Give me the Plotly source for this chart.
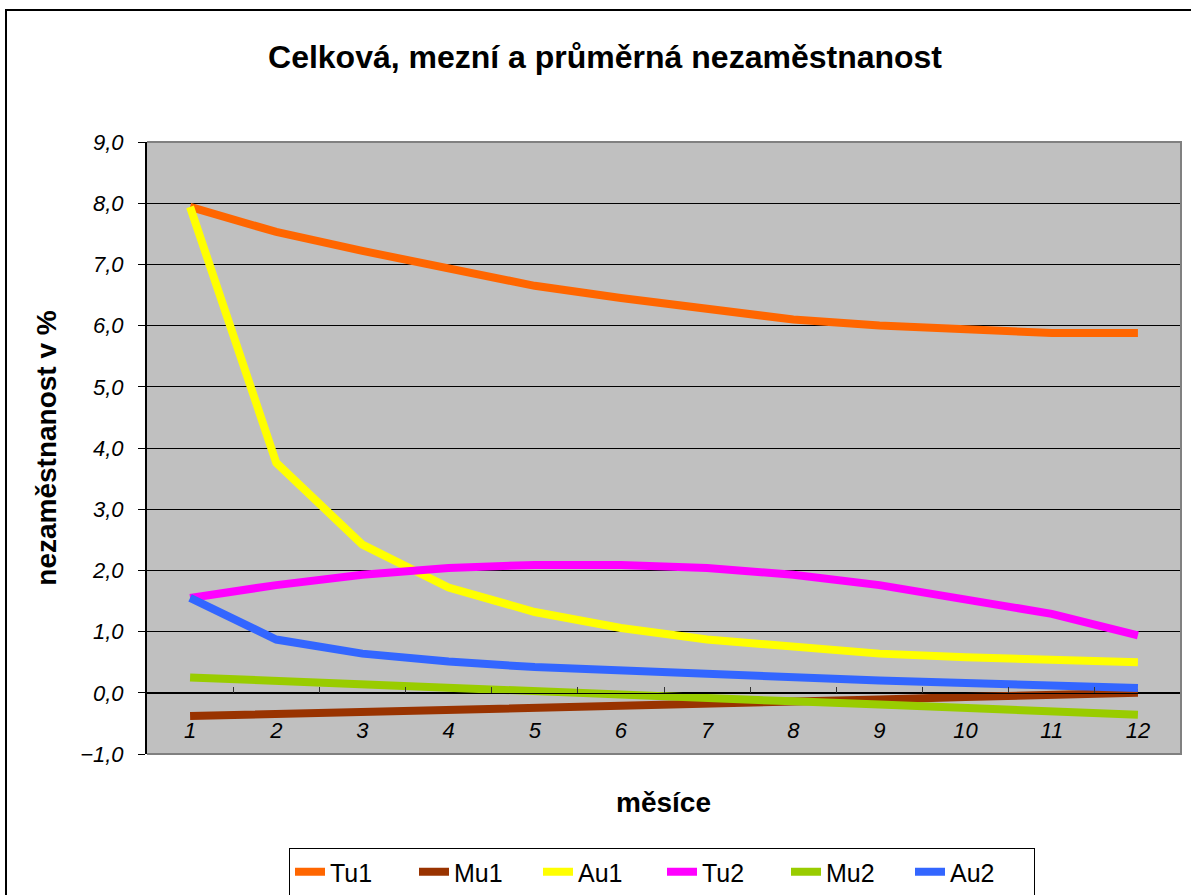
import plotly.graph_objects as go

months = [str(i) for i in range(1, 13)]
tu1 = [7.94, 7.53, 7.22, 6.93, 6.65, 6.45, 6.26, 6.10, 6.00, 5.93, 5.88, 5.88]
mu1 = [-0.38, -0.35, -0.31, -0.28, -0.25, -0.21, -0.18, -0.14, -0.11, -0.07, -0.04, 0.00]
au1 = [7.94, 3.76, 2.42, 1.72, 1.32, 1.06, 0.87, 0.74, 0.64, 0.58, 0.54, 0.50]
tu2 = [1.55, 1.76, 1.93, 2.04, 2.09, 2.09, 2.04, 1.93, 1.76, 1.52, 1.29, 0.94]
mu2 = [0.25, 0.19, 0.14, 0.08, 0.03, -0.03, -0.08, -0.14, -0.19, -0.25, -0.30, -0.36]
au2 = [1.55, 0.87, 0.64, 0.51, 0.42, 0.36, 0.30, 0.25, 0.20, 0.16, 0.11, 0.08]

series = [
    ("Tu1", tu1, "#FF6600"),
    ("Mu1", mu1, "#993300"),
    ("Au1", au1, "#FFFF00"),
    ("Tu2", tu2, "#FF00FF"),
    ("Mu2", mu2, "#99CC00"),
    ("Au2", au2, "#3366FF"),
]

FONT = "Liberation Sans, Arial, sans-serif"

fig = go.Figure()
for name, vals, col in series:
    fig.add_trace(go.Scatter(
        x=months, y=vals, name=name, mode="lines",
        line=dict(color=col, width=8),
    ))

fig.update_layout(
    width=1191, height=895,
    margin=dict(l=147, r=10, t=142, b=141, autoexpand=False),
    paper_bgcolor="white",
    plot_bgcolor="#C0C0C0",
    separators=",.",
    font=dict(family=FONT, color="black"),
    title=dict(
        text="<b>Celková, mezní a průměrná nezaměstnanost</b>",
        font=dict(size=32, family=FONT, color="black"),
        x=0.508, xref="container", xanchor="center",
        y=1 - 57 / 895, yref="container", yanchor="middle",
    ),
    showlegend=True,
    legend=dict(
        orientation="h",
        x=(289 - 147) / 1034, xanchor="left",
        y=-(848 - 754) / 612, yanchor="top",
        bordercolor="black", borderwidth=1,
        bgcolor="white",
        font=dict(size=25, family=FONT, color="black"),
        entrywidth=79, entrywidthmode="pixels",
        tracegroupgap=0,
    ),
)

fig.update_xaxes(
    type="category",
    range=[-0.5, 11.5],
    anchor="free", position=0.1,
    showline=True, linecolor="black", linewidth=1,
    showgrid=False, zeroline=False,
    ticks="inside", ticklen=6, tickcolor="#333333",
    tickson="boundaries",
    tickfont=dict(size=22, family=FONT, color="black", style="italic"),
    ticklabelstandoff=18,
)

fig.update_yaxes(
    range=[-1, 9], dtick=1, tick0=0,
    tickformat=".1f",
    showline=True, linecolor="black", linewidth=2,
    showgrid=True, gridcolor="black", gridwidth=1,
    zeroline=False,
    ticks="outside", ticklen=7, tickcolor="black",
    tickfont=dict(size=22, family=FONT, color="black", style="italic"),
    ticklabelstandoff=10,
    title=dict(text="<b>nezaměstnanost v %</b>",
               font=dict(size=28, family=FONT, color="black"),
               standoff=15),
)

# plot-area border (top, right, bottom)
fig.add_shape(type="path", xref="paper", yref="paper",
              path="M 0,1 L 1,1 L 1,0 L 0,0",
              line=dict(color="#808080", width=2), layer="above")
# outer chart border
fig.add_shape(type="rect", xref="paper", yref="paper",
              x0=(6 - 147) / 1034, x1=1.05,
              y0=-0.4, y1=(754 - 10) / 612,
              line=dict(color="black", width=2), layer="below")

fig.add_annotation(text="<b>měsíce</b>", xref="paper", yref="paper",
                   x=(663 - 147) / 1034, y=-(802 - 754) / 612,
                   xanchor="center", yanchor="middle", showarrow=False,
                   font=dict(size=28, family=FONT, color="black"))

fig.write_html("out.html", config={"displayModeBar": False},
               post_script="document.body.style.margin='0px';")
